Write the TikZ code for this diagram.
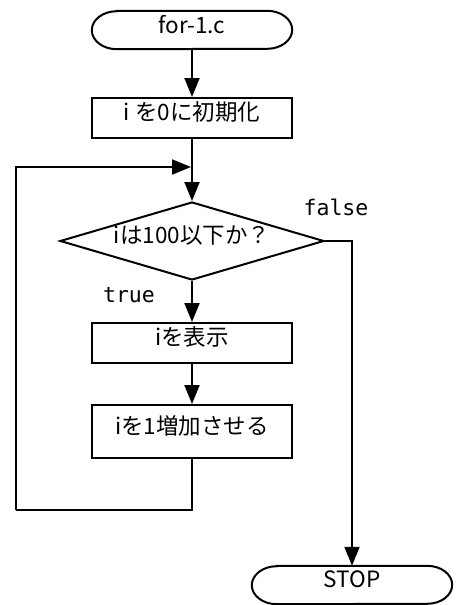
\documentclass[tikz,border=0pt]{standalone}
\usepackage{fontspec}
\setmainfont{Noto Sans CJK JP}
\newfontfamily\monof{DejaVu Sans Mono}
\usetikzlibrary{arrows.meta,shapes.geometric}
\begin{document}
\begin{tikzpicture}[x=1pt,y=-1pt,
  flow/.style={line width=2pt,-{Triangle[length=19pt,width=15pt]}},
  conn/.style={line width=2pt},
  txt/.style={font=\fontsize{22.5}{26}\selectfont},
  proc/.style={draw,line width=2pt,minimum width=200pt,inner sep=0pt,txt,text height=16pt,text depth=10.5pt},
  term/.style={minimum width=200pt,minimum height=38pt,inner sep=0pt,txt},
  termline/.style={line width=2pt},
  dec/.style={diamond,draw,line width=2pt,aspect=3.38,minimum width=264pt,minimum height=78pt,inner sep=0pt,txt,text height=16pt,text depth=10.5pt},
  lbl/.style={font=\monof\fontsize{21.5}{26}\selectfont}]
\useasboundingbox (0,0) rectangle (461,605);
\node[term,text height=16pt,text depth=9pt] (start) at (192,30) {for-1.c};
\node[proc,minimum height=40pt] (init) at (192,118) {i を0に初期化};
\node[dec] (cond) at (192,241) {iは100以下か？};
\node[proc,minimum height=40pt] (show) at (192,343) {iを表示};
\node[proc,minimum height=53pt] (inc) at (192,431.5) {iを1増加させる};
\node[term,text height=16pt,text depth=11pt] (stop) at (352,585) {STOP};
\node[lbl] (flbl) at (336,207) {false};
\node[lbl] (tlbl) at (129,295) {true};
\foreach \t in {start,stop}{
  \draw[termline] ([xshift=25pt]\t.north west) -- ([xshift=-25pt]\t.north east)
    arc[start angle=90,end angle=-90,x radius=25pt,y radius=19pt]
    -- ([xshift=25pt]\t.south west)
    arc[start angle=-90,end angle=-270,x radius=25pt,y radius=19pt] -- cycle;
}
\coordinate (join) at (191,167);
\coordinate (lb) at (16,510);
\draw[flow] (start.south) -- (init.north);
\draw[flow] (init.south) -- (cond.north);
\draw[flow] (cond.south) -- (show.north);
\draw[flow] (show.south) -- (inc.north);
\draw[conn] (inc.south) |- (lb);
\draw[flow] (lb) |- (join);
\draw[flow] (cond.east) -| (stop.north);
\end{tikzpicture}
\end{document}
